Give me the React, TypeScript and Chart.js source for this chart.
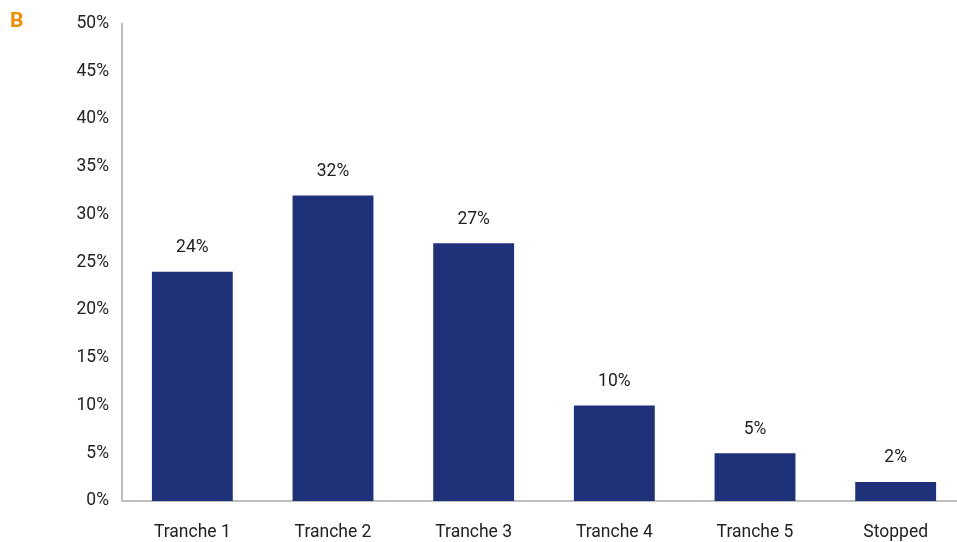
import React, { useEffect, useRef } from "react";
import { Chart, registerables } from "chart.js";

Chart.register(...registerables);

const categories = ["Tranche 1", "Tranche 2", "Tranche 3", "Tranche 4", "Tranche 5", "Stopped"];
const values = [24, 32, 27, 10, 5, 2];
const yTicks = [0, 5, 10, 15, 20, 25, 30, 35, 40, 45, 50];

const FONT = "Roboto, 'Noto Sans', sans-serif";

const labelPlugin = {
  id: "barLabels",
  afterDatasetsDraw(chart: any) {
    const ctx = chart.ctx;
    const meta = chart.getDatasetMeta(0);
    ctx.save();
    ctx.font = `17.5px ${FONT}`;
    ctx.fillStyle = "#222222";
    ctx.textAlign = "center";
    ctx.textBaseline = "middle";
    meta.data.forEach((el: any, i: number) => {
      ctx.fillText(values[i] + "%", el.x, el.y - 24);
    });
    ctx.restore();
  },
};

export default function App() {
  const ref = useRef<HTMLCanvasElement>(null);
  useEffect(() => {
    if (!ref.current) return;
    const chart = new Chart(ref.current, {
      type: "bar",
      data: {
        labels: categories,
        datasets: [
          {
            data: values,
            backgroundColor: "#1f3178",
            barPercentage: 0.575,
            categoryPercentage: 1,
          },
        ],
      },
      options: {
        animation: false,
        responsive: false,
        maintainAspectRatio: false,
        layout: { padding: { top: 22, right: 1, left: 0, bottom: 0 } },
        plugins: { legend: { display: false }, tooltip: { enabled: false } },
        scales: {
          x: {
            grid: { display: false, drawTicks: false },
            border: { color: "#bfbfbf", width: 2 },
            ticks: { font: { family: FONT, size: 17.5 }, color: "#222222", padding: 21, maxRotation: 0 },
            afterFit: (s: any) => {
              s.height = 41;
            },
          },
          y: {
            min: 0,
            max: 50,
            afterBuildTicks: (s: any) => {
              s.ticks = yTicks.map((v) => ({ value: v }));
            },
            grid: { display: false, drawTicks: false },
            border: { color: "#bfbfbf", width: 2 },
            ticks: {
              font: { family: FONT, size: 17.5 },
              color: "#222222",
              padding: 13,
              callback: (v: any) => v + "%",
            },
            afterFit: (s: any) => {
              s.width = 122;
            },
          },
        },
      },
      plugins: [labelPlugin],
    });
    return () => chart.destroy();
  }, []);
  return (
    <div style={{ position: "fixed", left: 0, top: 0, width: 957, height: 542, background: "#fff", overflow: "hidden" }}>
      <div
        style={{
          position: "absolute",
          left: 10,
          top: 8,
          fontFamily: FONT,
          fontWeight: 700,
          fontSize: 21,
          color: "#f28c00",
          lineHeight: "24px",
        }}
      >
        B
      </div>
      <canvas ref={ref} width={967} height={542} style={{ display: "block" }} />
    </div>
  );
}
